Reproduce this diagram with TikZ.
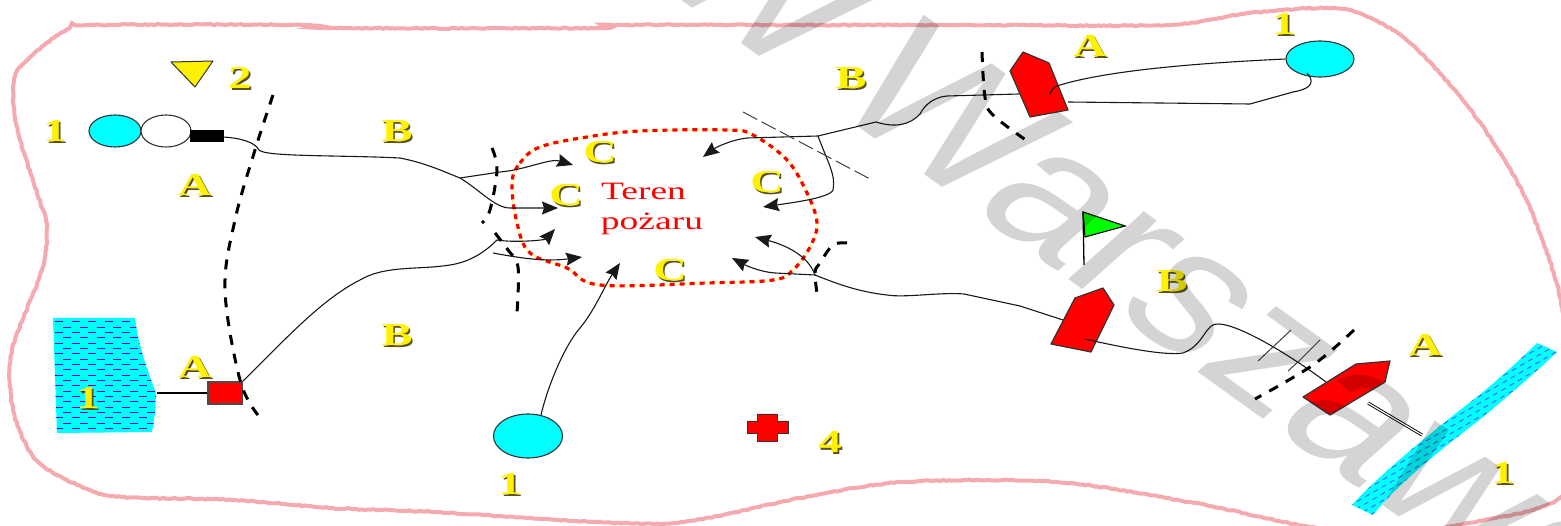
\documentclass[tikz,border=0pt]{standalone}
\usepackage{fontspec}
\setmainfont{Liberation Serif}
\newfontfamily\markfont{Liberation Sans}
\usetikzlibrary{arrows.meta,shapes.geometric,decorations.pathmorphing}
\definecolor{pinkline}{RGB}{245,170,176}
\definecolor{shadowgrey}{RGB}{90,80,30}
\definecolor{aqua}{RGB}{0,255,255}
\tikzset{
  hose/.style={draw=black!90,line width=1.1pt},
  hosearrow/.style={hose,-{Stealth[length=16pt,width=13pt,inset=2pt]}},
  barrier/.style={draw=black,line width=3pt,dash pattern=on 10pt off 9pt},
  thinbarrier/.style={draw=black!75,line width=1pt},
  firedots/.style={draw=red,line width=3.2pt,dash pattern=on 5pt off 5pt},
  firegaps/.style={draw=yellow!35,line width=2pt},
  boat/.style={draw=black!80,fill=red,line width=1.2pt,line join=round},
  pump/.style={ellipse,draw=black!80,line width=1.1pt,inner sep=0pt},
  water/.style={fill=aqua},
  waterdash/.style={draw=blue,line width=1pt,dash pattern=on 8pt off 8.7pt},
  riverdash/.style={draw=blue!70,line width=.8pt,dash pattern=on 5pt off 4.5pt},
  letter/.style={font=\bfseries\fontsize{32}{32}\selectfont,xscale=1.45,inner sep=0pt},
  redtext/.style={text=red,font=\fontsize{25}{25}\selectfont,xscale=1.5,inner sep=0pt,anchor=base},
}
\newcommand{\ylabel}[3]{
  \node[letter,text=shadowgrey] at ([shift={(1.6,1.6)}]#2) {#3};
  \node[letter,text=yellow] (#1) at (#2) {#3};
}
\begin{document}
\begin{tikzpicture}[x=1pt,y=-1pt]
\clip (0,0) rectangle (1561,526);
\fill[white] (0,0) rectangle (1561,526);
\draw[pinkline,line width=4pt,decorate,decoration={random steps,segment length=3pt,amplitude=.6pt}] plot[smooth cycle,tension=0.5] coordinates {(13,100) (20,67) (66,30) (94,25) (306,25) (332,28) (597,28) (612,25) (800,25) (960,25) (1167,25) (1249,13) (1343,9) (1403,37) (1458,94) (1497,148) (1530,208) (1560,297) (1575,420) (1561,497) (1469,523) (1380,535) (1304,526) (1195,503) (1057,482) (903,482) (800,498) (684,522) (597,522) (434,512) (332,508) (235,500) (122,497) (82,487) (36,460) (13,410) (12,350) (42,270) (47,227) (37,193) (20,140)};
\path[water] (53,318) -- (135,318) .. controls (138,343) and (145,365) .. (156,393) -- (155,413) -- (152,432) -- (57,433) -- cycle;
\begin{scope}
\clip (53,318) -- (135,318) .. controls (138,343) and (145,365) .. (156,393) -- (155,413) -- (152,432) -- (57,433) -- cycle;
\foreach \row in {0,...,20} {
  \pgfmathsetmacro{\rowy}{322+5.33*\row}
  \pgfmathsetmacro{\rowphase}{8.35*mod(\row,2)}
  \draw[waterdash,dash phase=\rowphase pt] (55,\rowy) -- (160,\rowy);
}
\end{scope}
\path[water] (1352,505) .. controls (1377,477) and (1430,433) .. (1473,400) .. controls (1490,387) and (1520,360) .. (1537,343) -- (1557,352) .. controls (1540,368) and (1527,380) .. (1483,417) .. controls (1460,435) and (1400,480) .. (1373,515) -- cycle;
\begin{scope}
\clip (1352,505) .. controls (1377,477) and (1430,433) .. (1473,400) .. controls (1490,387) and (1520,360) .. (1537,343) -- (1557,352) .. controls (1540,368) and (1527,380) .. (1483,417) .. controls (1460,435) and (1400,480) .. (1373,515) -- cycle;
\begin{scope}[shift={(1445,430)},rotate=30]
\foreach \row in {0,...,30} {
  \pgfmathsetmacro{\rowy}{-90+6*\row}
  \pgfmathsetmacro{\rowphase}{4.75*mod(\row,2)}
  \draw[riverdash,dash phase=\rowphase pt] (-150,\rowy) -- (150,\rowy);
}
\end{scope}
\end{scope}
\draw[firegaps] plot[smooth cycle,tension=0.6] coordinates {(512,183) (520,163) (540,147) (587,137) (640,131) (727,130) (753,135) (787,160) (807,193) (817,223) (810,247) (793,270) (773,280) (707,283) (600,285) (567,268) (530,253) (517,223)};
\draw[firedots] plot[smooth cycle,tension=0.6] coordinates {(512,183) (520,163) (540,147) (587,137) (640,131) (727,130) (753,135) (787,160) (807,193) (817,223) (810,247) (793,270) (773,280) (707,283) (600,285) (567,268) (530,253) (517,223)};
\node[pump,fill=aqua,minimum width=52pt,minimum height=32pt] (pumpA) at (115,131) {};
\node[pump,fill=white,minimum width=50pt,minimum height=32pt] (pumpB) at (166,131) {};
\node[draw=black,fill=black,minimum width=33pt,minimum height=11pt,inner sep=0pt] (bar) at (206.5,135.5) {};
\node[pump,fill=aqua,minimum width=69pt,minimum height=44pt] (pumpC) at (528,436) {};
\node[pump,fill=aqua,minimum width=68pt,minimum height=36pt] (pumpD) at (1320,59) {};
\node[draw=black!70,fill=red,line width=1.2pt,minimum width=34pt,minimum height=22pt,inner sep=0pt] (source) at (225,393) {};
\draw[black!80,line width=1pt,fill=yellow,line join=round] (171,62) -- (213,61) -- (195,87) -- cycle;
\draw[boat] (1023,52) -- (1049,63) -- (1068,110) -- (1030,117) -- (1010,71) -- cycle;
\draw[boat] (1103,288) -- (1114,305) -- (1091,352) -- (1051,344) -- (1075,298) -- cycle;
\draw[boat] (1390,361) -- (1385,382) -- (1330,415) -- (1303,397) -- (1356,364) -- cycle;
\draw[draw=black!80,line width=0.9pt,fill=red] (757,414) -- (777,414) -- (777,421) -- (788,421) -- (788,433) -- (777,433) -- (777,441) -- (757,441) -- (757,433) -- (747,433) -- (747,421) -- (757,421) -- cycle;
\coordinate (flagtop) at (1083,212);
\coordinate (flagfoot) at (1084,265);
\draw[black,line width=1.1pt,fill=green] (flagtop) -- (1125,226) -- (1085,237) -- cycle;
\draw[black,line width=1.3pt] (flagtop) -- (flagfoot);
\coordinate (barout) at (223,137);
\coordinate (splitA) at (460,178);
\coordinate (arrowA) at (573,165);
\coordinate (arrowB) at (558,208);
\coordinate (sourceout) at (243,381);
\coordinate (splitB) at (497,240);
\coordinate (arrowC) at (555,229);
\coordinate (startD) at (493,253);
\coordinate (arrowD) at (582,257);
\coordinate (pumpCout) at (541,415);
\coordinate (arrowE) at (620,263);
\coordinate (boatAout) at (1019,94);
\coordinate (splitC) at (818,136);
\coordinate (arrowF) at (703,157);
\coordinate (arrowG) at (763,207);
\coordinate (boatBout) at (1063,320);
\coordinate (splitD) at (815,275);
\coordinate (arrowH) at (732,258);
\coordinate (arrowI) at (755,237);
\coordinate (boatBin) at (1085,339);
\coordinate (boatCin) at (1326,382);
\coordinate (boatAhook) at (1050,94);
\coordinate (boatAlow) at (1068,102);
\coordinate (pumpDin) at (1307,73);
\coordinate (boatCout) at (1368,403);
\coordinate (riverin) at (1422,435);
\coordinate (pondout) at (157,393);
\draw[hose] (barout) .. controls (240,138) and (255,142) .. (259,150) .. controls (265,157) and (340,155) .. (400,158) .. controls (425,163) and (440,170) .. (splitA);
\draw[hosearrow] (splitA) -- (500,172) .. controls (525,170) and (550,158) .. (arrowA);
\draw[hosearrow] (splitA) .. controls (480,190) and (495,208) .. (510,208) -- (arrowB);
\draw[hose] (sourceout) .. controls (280,345) and (320,300) .. (360,280) .. controls (385,265) and (420,270) .. (450,265) .. controls (470,262) and (485,252) .. (splitB);
\draw[hosearrow] (splitB) .. controls (515,243) and (545,240) .. (arrowC);
\draw[hosearrow] (startD) .. controls (520,258) and (545,262) .. (arrowD);
\draw[hosearrow] (pumpCout) .. controls (548,385) and (565,345) .. (580,328) .. controls (595,310) and (605,285) .. (arrowE);
\draw[hose] (boatAout) -- (947,96) .. controls (935,97) and (925,104) .. (920,114) .. controls (910,125) and (895,128) .. (876,122) -- (splitC);
\draw[hosearrow] (splitC) -- (747,138) .. controls (730,140) and (715,148) .. (arrowF);
\draw[hosearrow] (splitC) .. controls (828,163) and (836,175) .. (833,190) .. controls (830,198) and (790,203) .. (arrowG);
\draw[hose] (boatBout) -- (1020,306) -- (964,294) .. controls (940,292) and (905,298) .. (887,295) .. controls (860,292) and (840,285) .. (splitD);
\draw[hosearrow] (splitD) -- (775,273) .. controls (760,272) and (745,265) .. (arrowH);
\draw[hosearrow] (splitD) .. controls (808,255) and (785,245) .. (arrowI);
\draw[hose] (boatBin) .. controls (1120,347) and (1165,356) .. (1183,353) .. controls (1205,345) and (1205,322) .. (1219,324) .. controls (1240,325) and (1290,355) .. (boatCin);
\draw[hose] (boatAhook) .. controls (1052,88) and (1056,86) .. (1060,85) .. controls (1110,70) and (1200,63) .. (pumpD.west);
\draw[hose] (boatAlow) -- (1250,104) -- (1293,92) .. controls (1305,90) and (1318,85) .. (pumpDin);
\draw[black,line width=1.1pt] (bar.east) -- (barout);
\draw[black,line width=1.2pt] (pondout) -- (source.west);
\draw[black,line width=3pt] (boatCout) -- (riverin);
\draw[white,line width=1.2pt] (boatCout) -- (riverin);
\draw[barrier] plot[smooth,tension=0.6] coordinates {(273,95) (255,150) (235,220) (225,290) (240,380) (258,415)};
\draw[barrier] plot[smooth,tension=0.6] coordinates {(492,148) (497,170) (490,210) (482,223)};
\draw[barrier] plot[smooth,tension=0.6] coordinates {(495,233) (508,250) (518,267) (517,313)};
\draw[barrier] plot[smooth,tension=0.6] coordinates {(847,243) (833,245) (820,263) (815,273) (818,300)};
\draw[barrier] plot[smooth,tension=0.6] coordinates {(982,52) (985,97) (993,115) (1030,143)};
\draw[barrier] plot[smooth,tension=0.6] coordinates {(1354,330) (1313,365) (1255,399)};
\draw[thinbarrier,dash pattern=on 16pt off 5pt] (743,112) -- (872,180);
\draw[thinbarrier] (1291,330) -- (1258,361);
\draw[thinbarrier] (1320,340) -- (1299,361) -- (1288,371);
\node[redtext] (teren) at (643.5,200) {Teren};
\node[redtext] (pozaru) at (652,230) {pożaru};
\ylabel{one}{55,131}{1}
\ylabel{two}{240,78}{2}
\ylabel{aa}{195,185}{A}
\ylabel{ba}{397,131}{B}
\ylabel{bb}{397,335}{B}
\ylabel{ab}{195,367}{A}
\ylabel{pond}{88,398}{1}
\ylabel{onec}{510,484}{1}
\ylabel{four}{830,442}{4}
\ylabel{bc}{851,78}{B}
\ylabel{ac}{1090,46}{A}
\ylabel{oned}{1284,24}{1}
\ylabel{bd}{1172,281}{B}
\ylabel{ad}{1425,345}{A}
\ylabel{river}{1503,473}{1}
\ylabel{ca}{600,152}{C}
\ylabel{cb}{566,195}{C}
\ylabel{cc}{767,182}{C}
\ylabel{cd}{670,270}{C}
\begin{scope}[xscale=1.25]
\node[transform shape,anchor=base west,rotate=-42,text=black,text opacity=0.17,font=\markfont\fontsize{172}{172}\selectfont,inner sep=0pt] (mark) at (513,-29) {W\hspace{.2em}Warszawa};
\end{scope}
\end{tikzpicture}
\end{document}
